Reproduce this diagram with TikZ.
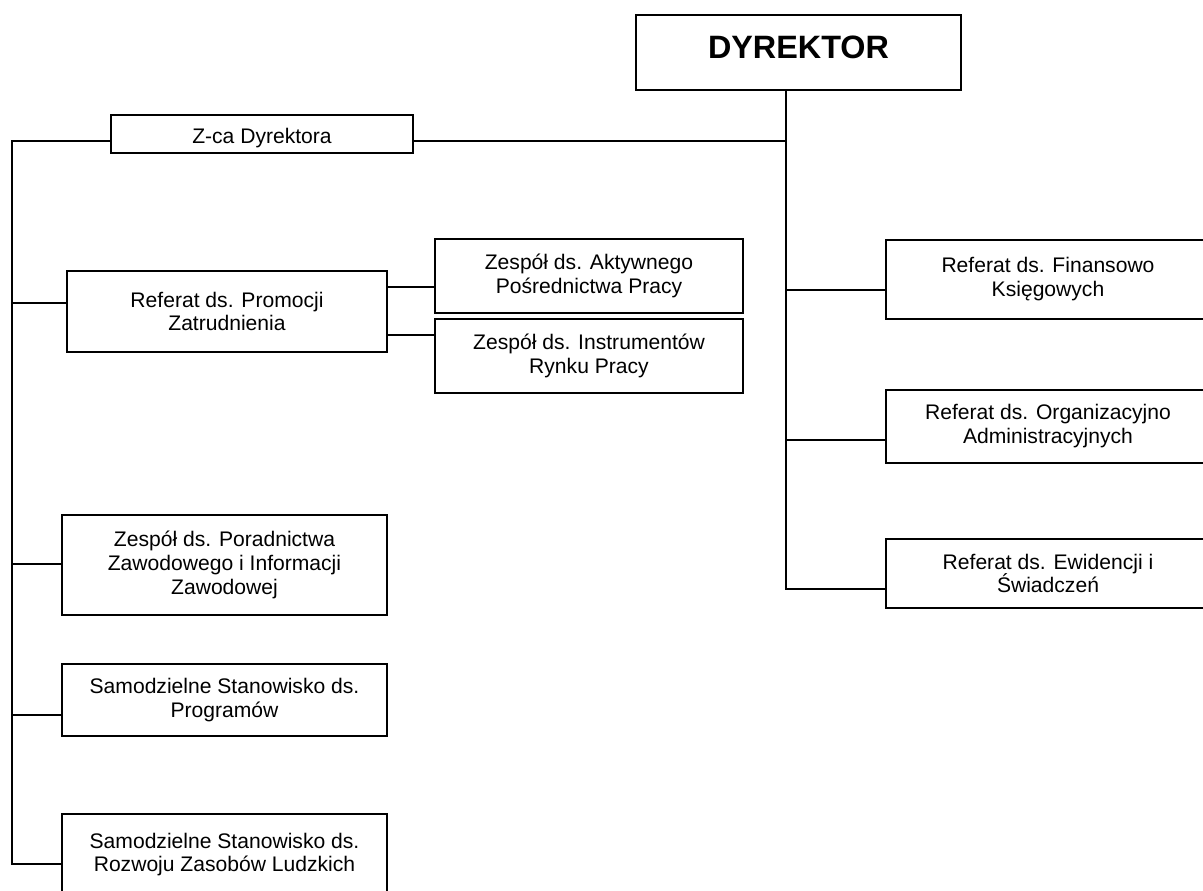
\documentclass[tikz,border=0pt]{standalone}
\usepackage{fontspec}
\setmainfont{Liberation Sans}
\usepackage{tikz}
\usetikzlibrary{calc}

\begin{document}
\begin{tikzpicture}[x=0.025cm,y=-0.025cm,line width=1.1pt]
    \tikzstyle{unit}=[draw=black, rectangle, inner sep=0pt, align=center, text=black, font=\fontsize{15}{17}\selectfont]
    \tikzstyle{head}=[style=unit, font=\fontsize{23}{26}\selectfont\bfseries]
    \tikzstyle{wide}=[style=unit, minimum width=8.125cm]
    \tikzstyle{side}=[style=unit, minimum width=8.1cm]

    \useasboundingbox (0,0) rectangle (1203,891);
    \clip (0,0) rectangle (1203,891);

    \node[head, minimum width=8.125cm, minimum height=1.875cm] (dyr) at (798.5,52.5) {\raisebox{4pt}[\height][\depth]{DYREKTOR}};
    \node[unit, minimum width=7.55cm, minimum height=0.95cm] (zca) at (262,134) {\raisebox{-3pt}[\height][\depth]{Z-ca Dyrektora}};

    \node[unit, minimum width=8cm, minimum height=2.025cm] (prom) at (227,311.5) {Referat ds. Promocji\\Zatrudnienia};
    \node[unit, minimum width=7.7cm, minimum height=1.85cm] (akt) at (589,276) {Zespół ds. Aktywnego\\Pośrednictwa Pracy};
    \node[unit, minimum width=7.7cm, minimum height=1.85cm] (instr) at (589,356) {Zespół ds. Instrumentów\\Rynku Pracy};

    \node[wide, minimum height=2.5cm] (por) at (224.5,565) {Zespół ds. Poradnictwa\\Zawodowego i Informacji\\Zawodowej};
    \node[wide, minimum height=1.8cm] (prog) at (224.5,700) {Samodzielne Stanowisko ds.\\Programów};
    \node[wide, minimum height=2.025cm] (roz) at (224.5,854.5) {Samodzielne Stanowisko ds.\\Rozwoju Zasobów Ludzkich};

    \node[side, minimum height=1.975cm] (fin) at (1048,279.5) {Referat ds. Finansowo\\Księgowych};
    \node[side, minimum height=1.825cm] (org) at (1048,426.5) {Referat ds. Organizacyjno\\Administracyjnych};
    \node[side, minimum height=1.725cm] (ewi) at (1048,573.5) {Referat ds. Ewidencji i\\Świadczeń};

    \coordinate (lt) at (12,141);
    \coordinate (lb) at (12,864);
    \coordinate (rt) at (786,141);
    \coordinate (rb) at (786,589);

    \draw (rb |- dyr.south) -- (rb) -- (ewi.west |- rb);
    \draw (zca.east |- rt) -- (rt);
    \draw (zca.west |- lt) -- (lt) -- (lb) -- (roz.west |- lb);

    \foreach \n/\y in {prom/303, por/564, prog/715}
      \draw (lt |- 0,\y) -- (\n.west |- 0,\y);
    \foreach \n/\y in {fin/290, org/440}
      \draw (rt |- 0,\y) -- (\n.west |- 0,\y);
    \draw (prom.east |- akt.west) ++(0,11) coordinate (pa) -- (akt.west |- pa);
    \draw (prom.east |- instr.west) ++(0,-21) coordinate (pi) -- (instr.west |- pi);
\end{tikzpicture}
\end{document}
